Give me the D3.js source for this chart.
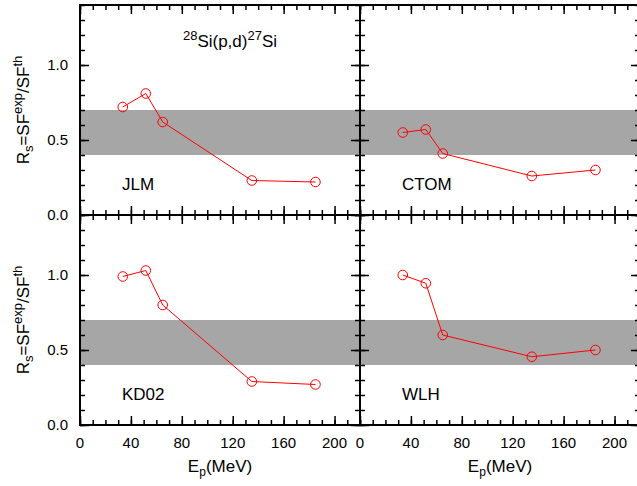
<!DOCTYPE html>
<html>
<head>
<meta charset="utf-8">
<script src="https://cdn.jsdelivr.net/npm/d3@7"></script>
<style>
  html, body { margin: 0; padding: 0; background: #fff; }
  svg { display: block; font-family: "Liberation Sans", Arial, Helvetica, sans-serif; }
</style>
</head>
<body>
<div id="chart"></div>
<script>
// data
const energies = [33.6, 51.7, 65, 135, 185];
const jlm  = [0.72, 0.81, 0.62, 0.23, 0.22];
const ctom = [0.55, 0.57, 0.41, 0.26, 0.30];
const kd02 = [0.99, 1.03, 0.80, 0.29, 0.27];
const wlh  = [1.00, 0.945, 0.60, 0.455, 0.50];
const panelNames = ["JLM", "CTOM", "KD02", "WLH"];
const panelValues = [jlm, ctom, kd02, wlh];
const band = [0.4, 0.7];
const xMajor = [0, 40, 80, 120, 160, 200];
const yMajor = [0.0, 0.5, 1.0];

const width = 637, height = 486;
const marginLeft = 80, marginTop = 5, pw = 280, ph = 210;

const svg = d3.select("#chart").append("svg")
    .attr("width", width)
    .attr("height", height);

const x0 = d3.scaleLinear().domain([0, 220]);
const y0 = d3.scaleLinear().domain([0, 1.4]);
const xMinor = d3.range(0, 221, 10);
const yMinor = d3.range(0, 14.1, 1).map(v => v / 10);

panelNames.forEach((name, i) => {
    const col = i % 2, row = Math.floor(i / 2);
    const ox = marginLeft + col * pw, oy = marginTop + row * ph;
    const x = x0.copy().range([ox, ox + pw]);
    const y = y0.copy().range([oy + ph, oy]);
    const g = svg.append("g");

    // grey band
    g.append("rect")
        .attr("x", ox).attr("width", pw)
        .attr("y", y(band[1])).attr("height", y(band[0]) - y(band[1]))
        .attr("fill", "#a6a6a6");

    // ticks on four sides, pointing inward
    const addAxis = (axisFn, scale, vals, size, tx, ty) => {
        const a = g.append("g")
            .attr("transform", `translate(${tx},${ty})`)
            .call(axisFn(scale).tickValues(vals).tickSize(-size).tickFormat(""));
        a.select(".domain").remove();
        a.selectAll("line").attr("stroke", "#000").attr("stroke-width", 1.5);
    };
    addAxis(d3.axisBottom, x, xMinor, 5, 0, oy + ph);
    addAxis(d3.axisBottom, x, xMajor, 9, 0, oy + ph);
    addAxis(d3.axisTop, x, xMinor, 5, 0, oy);
    addAxis(d3.axisTop, x, xMajor, 9, 0, oy);
    addAxis(d3.axisLeft, y, yMinor, 5, ox, 0);
    addAxis(d3.axisLeft, y, yMajor, 9, ox, 0);
    addAxis(d3.axisRight, y, yMinor, 5, ox + pw, 0);
    addAxis(d3.axisRight, y, yMajor, 9, ox + pw, 0);

    // frame
    g.append("rect")
        .attr("x", ox).attr("y", oy).attr("width", pw).attr("height", ph)
        .attr("fill", "none").attr("stroke", "#000").attr("stroke-width", 2);

    // tick labels
    if (col === 0) {
        g.selectAll("text.ylab").data(yMajor).enter().append("text")
            .attr("class", "ylab")
            .attr("x", ox - 12).attr("y", d => y(d))
            .attr("dy", "0.36em")
            .attr("text-anchor", "end")
            .attr("font-size", 15)
            .text(d => d.toFixed(1));
    }
    if (row === 1) {
        g.selectAll("text.xlab").data(xMajor).enter().append("text")
            .attr("class", "xlab")
            .attr("x", d => x(d)).attr("y", oy + ph + 22.5)
            .attr("text-anchor", "middle")
            .attr("font-size", 15)
            .text(d => d);

        const xl = g.append("text")
            .attr("x", ox + pw / 2).attr("y", oy + ph + 47)
            .attr("text-anchor", "middle")
            .attr("font-size", 17);
        xl.append("tspan").text("E");
        xl.append("tspan").attr("font-size", 12).attr("dy", 4).text("p");
        xl.append("tspan").attr("dy", -4).text("(MeV)");
    }
    if (col === 0) {
        const yl = g.append("text")
            .attr("transform", `translate(${ox - 51},${oy + ph / 2}) rotate(-90)`)
            .attr("text-anchor", "middle")
            .attr("font-size", 17);
        yl.append("tspan").text("R");
        yl.append("tspan").attr("font-size", 13).attr("dy", 4).text("s");
        yl.append("tspan").attr("dy", -4).text("=SF");
        yl.append("tspan").attr("font-size", 13).attr("dy", -7).text("exp");
        yl.append("tspan").attr("dy", 7).text("/SF");
        yl.append("tspan").attr("font-size", 13).attr("dy", -7).text("th");
    }

    // panel name
    g.append("text")
        .attr("x", ox + 42).attr("y", oy + ph - 25)
        .attr("font-size", 17)
        .text(name);

    // data line and open circles
    const pts = energies.map((e, k) => [e, panelValues[i][k]]);
    g.append("path")
        .datum(pts)
        .attr("fill", "none")
        .attr("stroke", "#ff0000")
        .attr("stroke-width", 1)
        .attr("d", d3.line().x(d => x(d[0])).y(d => y(d[1])));
    g.selectAll("circle").data(pts).enter().append("circle")
        .attr("cx", d => x(d[0])).attr("cy", d => y(d[1]))
        .attr("r", 4.8)
        .attr("fill", "none")
        .attr("stroke", "#ff0000")
        .attr("stroke-width", 1);

    // reaction title
    if (i === 0) {
        const t = g.append("text")
            .attr("x", ox + 150).attr("y", oy + 42)
            .attr("text-anchor", "middle")
            .attr("font-size", 17);
        t.append("tspan").attr("font-size", 13).attr("dy", -7).text("28");
        t.append("tspan").attr("dy", 7).text("Si(p,d)");
        t.append("tspan").attr("font-size", 13).attr("dy", -7).text("27");
        t.append("tspan").attr("dy", 7).text("Si");
    }
});
</script>
</body>
</html>
